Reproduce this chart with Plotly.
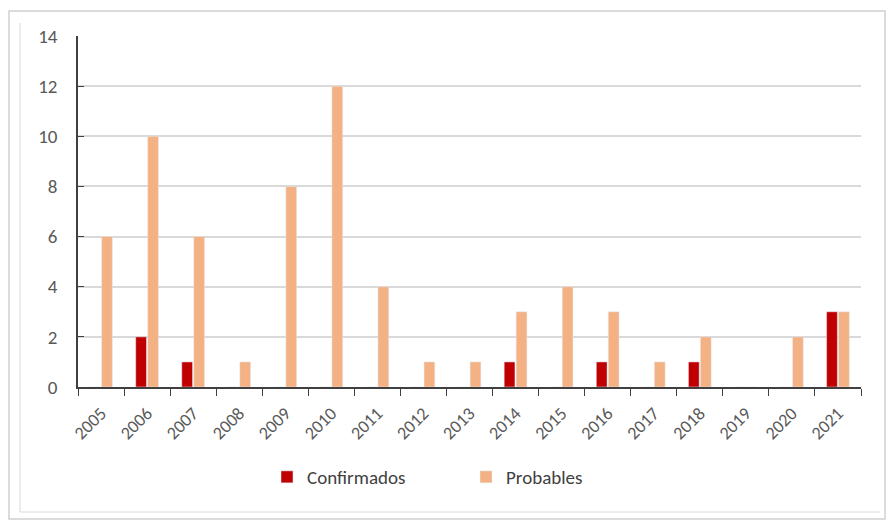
import plotly.graph_objects as go

years = [str(y) for y in range(2005, 2022)]
confirmados = [0, 2, 1, 0, 0, 0, 0, 0, 0, 1, 0, 1, 0, 1, 0, 0, 3]
probables = [6, 10, 6, 1, 8, 12, 4, 1, 1, 3, 4, 3, 1, 2, 0, 2, 3]

W, H = 886, 521
L, R, T, B = 78, 861, 36, 387

def px(x):
    return (x - L) / (R - L)

def py(y):
    return (B - y) / (B - T)

fig = go.Figure()
fig.add_trace(go.Bar(x=years, y=confirmados, name="Confirmados", marker_color="#C00000"))
fig.add_trace(go.Bar(x=years, y=probables, name="Probables", marker_color="#F4B183"))

font_family = "Carlito, Liberation Sans, Arial, sans-serif"
fig.update_layout(
    width=W, height=H,
    margin=dict(l=L, r=W - R, t=T, b=H - B, autoexpand=False),
    paper_bgcolor="white", plot_bgcolor="white",
    barmode="group", bargap=0.48, bargroupgap=0.1,
    font=dict(family=font_family, color="#595959"),
    showlegend=True,
    legend=dict(orientation="h", x=px(267), xanchor="left", y=py(477), yanchor="middle",
                font=dict(size=19, color="#404040"), itemwidth=30, traceorder="normal",
                entrywidth=154),
    xaxis=dict(type="category", showline=True, linecolor="#404040", linewidth=1.5,
               ticks="outside", ticklen=7, tickcolor="#404040", tickson="boundaries",
               tickangle=-45, tickfont=dict(size=18, color="#595959"), showgrid=False,
               ticklabelstandoff=7, automargin=False),
    yaxis=dict(range=[0, 14], dtick=2, showline=True, linecolor="#404040", linewidth=1.5,
               ticks="inside", ticklen=6, tickcolor="#404040",
               showgrid=True, gridcolor="#D9D9D9", gridwidth=1.5,
               tickfont=dict(size=19, color="#595959"), zeroline=False,
               ticklabelstandoff=15, automargin=False),
)

shapes = [
    dict(type="rect", xref="paper", yref="paper", x0=px(9), x1=px(885), y0=py(519), y1=py(11),
         line=dict(color="#D0D0D0", width=1.5), layer="below"),
    dict(type="line", xref="paper", yref="paper", x0=px(20), x1=px(20), y0=py(512), y1=py(23),
         line=dict(color="#E6E6E6", width=1.5), layer="below"),
    dict(type="line", xref="paper", yref="paper", x0=px(20), x1=px(880), y0=py(512), y1=py(512),
         line=dict(color="#E6E6E6", width=1.5), layer="below"),
]
fig.update_layout(shapes=shapes)

fig.write_html("out.html", config={"displayModeBar": False},
               post_script="document.body.style.margin='0';document.body.style.overflow='hidden';")
